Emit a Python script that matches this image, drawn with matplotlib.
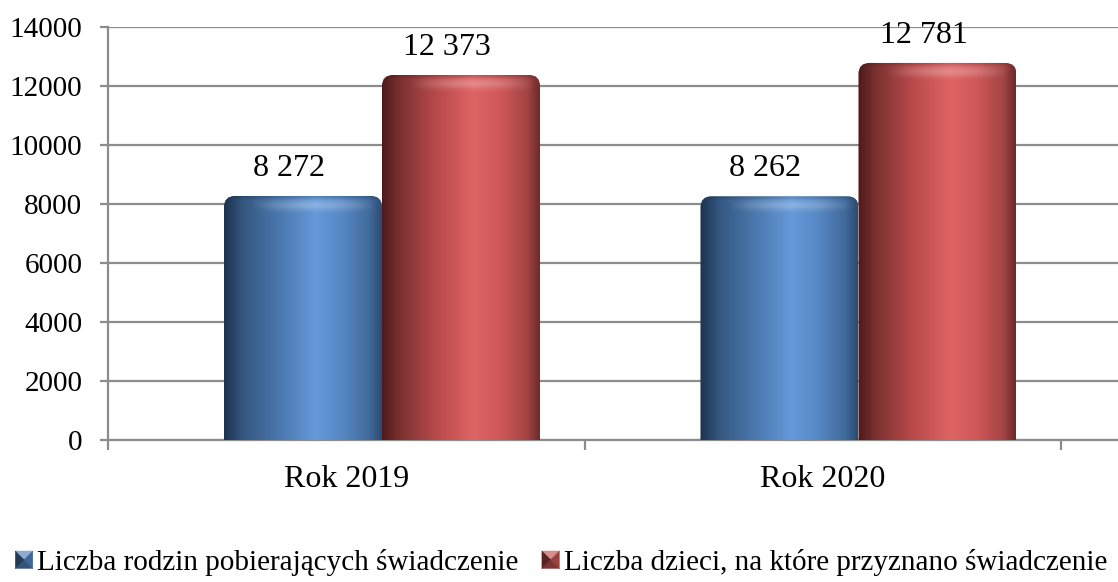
import numpy as np
import matplotlib
matplotlib.use("Agg")
import matplotlib.pyplot as plt
from matplotlib.patches import FancyBboxPatch, Polygon
from matplotlib.legend_handler import HandlerBase
from matplotlib.colors import to_rgb

categories = ["Rok 2019", "Rok 2020"]
series_names = ["Liczba rodzin pobierających świadczenie",
                "Liczba dzieci, na które przyznano świadczenie"]
families = [8272, 8262]
children = [12373, 12781]
yticks = [0, 2000, 4000, 6000, 8000, 10000, 12000, 14000]

# gradient stops (position, colour) across the bar width
blue_stops = [(0.0, "#1e3250"), (0.12, "#34577f"), (0.35, "#4b78ae"),
              (0.58, "#6599da"), (0.75, "#5688c4"), (0.92, "#416a9c"), (1.0, "#2c4b72")]
red_stops = [(0.0, "#4e1a1a"), (0.12, "#7e3232"), (0.35, "#b94a4a"),
             (0.58, "#df6464"), (0.75, "#cf5858"), (0.92, "#a44444"), (1.0, "#6e2a2a")]
blue_base = "#4f81bd"
red_base = "#c0504d"

plt.rcParams['font.family'] = ['Liberation Serif', 'DejaVu Serif']

W, H = 1118, 582
fig = plt.figure(figsize=(W / 100, H / 100), dpi=100)
ax_l, ax_b = 108 / W, (H - 440) / H
ax_w, ax_h = 1 - ax_l, (440 - 27) / H
ax = fig.add_axes([ax_l, ax_b, ax_w, ax_h])

cat_px = 476.5
xmin = -0.5
xmax = -0.5 + (W - 108) / cat_px
ax.set_xlim(xmin, xmax)
ax.set_ylim(0, 14000)

x = np.arange(len(categories))
bw = 158 / cat_px
offset = 0.075
b1 = ax.bar(x + offset - bw / 2, families, width=bw, color="none", zorder=3)
b2 = ax.bar(x + offset + bw / 2, children, width=bw, color="none", zorder=3)


def grad_array(stops, n=256):
    pos = np.array([s[0] for s in stops])
    cols = np.array([to_rgb(s[1]) for s in stops])
    t = np.linspace(0, 1, n)
    arr = np.stack([np.interp(t, pos, cols[:, i]) for i in range(3)], axis=-1)
    return arr[None, :, :]


# pixel-to-data scales
xpp = (xmax - xmin) / (ax_w * W)
ypp = 14000 / (ax_h * H)
r_px = 11
r_x = r_px * xpp
m_aspect = ypp / xpp


def draw_bar(rect, stops):
    x0 = rect.get_x()
    w = rect.get_width()
    h = rect.get_height()
    clip = FancyBboxPatch((x0, -2000), w, h + 2000,
                          boxstyle=f"round,pad=0,rounding_size={r_x}",
                          mutation_aspect=m_aspect, transform=ax.transData,
                          facecolor="none", edgecolor="none")
    ax.add_patch(clip)
    im = ax.imshow(grad_array(stops), extent=(x0, x0 + w, 0, h), aspect="auto",
                   zorder=3, interpolation="bilinear")
    im.set_clip_path(clip)
    # top highlight
    n = 64
    hl = np.zeros((n, 1, 4))
    tt = np.linspace(0, 1, n)  # 0 at top
    alpha = 0.24 * np.exp(-((tt - 0.35) / 0.2) ** 2)
    hl[:, 0, :3] = 1.0
    hl[:, 0, 3] = alpha
    band = 26 * ypp
    hx = np.zeros((1, 128, 4))
    xs = np.linspace(-1, 1, 128)
    hx[0, :, :3] = 1
    hx[0, :, 3] = np.clip(1 - ((xs - 0.15) / 0.8) ** 2, 0, 1)
    comb = hl * hx
    comb[..., :3] = 1.0
    im2 = ax.imshow(comb, extent=(x0, x0 + w, h - band, h), aspect="auto",
                    zorder=3.5, interpolation="bilinear")
    im2.set_clip_path(clip)
    # slight darkening at the rim
    rim = np.zeros((32, 1, 4))
    ta = np.linspace(0, 1, 32)
    rim[:, 0, 3] = 0.15 * np.clip(1 - ta / 0.25, 0, 1)
    im3 = ax.imshow(rim, extent=(x0, x0 + w, h - 16 * ypp, h), aspect="auto",
                    zorder=3.6, interpolation="bilinear")
    im3.set_clip_path(clip)


for r in b1:
    draw_bar(r, blue_stops)
for r in b2:
    draw_bar(r, red_stops)


def fmt(v):
    return f"{v:,}".replace(",", " ")


for rects, vals in ((b1, families), (b2, children)):
    for r, v in zip(rects, vals):
        ax.annotate(fmt(v), (r.get_x() + r.get_width() / 2, v),
                    xytext=(-14, 13), textcoords="offset pixels",
                    ha="center", va="bottom", fontsize=23, color="black")

grid_c = "#8c8c8c"
ax.set_yticks(yticks)
ax.set_yticklabels([str(t) for t in yticks], fontsize=21)
ax.yaxis.grid(True, color=grid_c, linewidth=1.6, zorder=0)
ax.set_axisbelow(True)
ax.tick_params(axis="y", length=6, width=1.6, color=grid_c, pad=12.5)

ax.set_xticks(x)
ax.set_xticklabels(categories, fontsize=23)
ax.tick_params(axis="x", which="major", length=0, pad=18)
ax.set_xticks([-0.5, 0.5, 1.5], minor=True)
ax.tick_params(axis="x", which="minor", length=7, width=1.6, color=grid_c)

for s in ("top", "right"):
    ax.spines[s].set_visible(False)
for s in ("left", "bottom"):
    ax.spines[s].set_color(grid_c)
    ax.spines[s].set_linewidth(1.6)


class PyramidHandler(HandlerBase):
    def __init__(self, base):
        super().__init__()
        self.base = np.array(to_rgb(base))

    def create_artists(self, legend, orig_handle, xdescent, ydescent, width,
                       height, fontsize, trans):
        s = min(width, height)
        x0 = -xdescent + (width - s) / 2
        y0 = -ydescent
        c = (x0 + s / 2, y0 + s / 2)
        b = self.base
        light = np.clip(b + (1 - b) * 0.35, 0, 1)
        dark = b * 0.45
        mid = b * 0.8
        tris = [
            ([(x0, y0 + s), (x0 + s, y0 + s), c], light),
            ([(x0 + s, y0 + s), (x0 + s, y0), c], mid),
            ([(x0, y0), (x0 + s, y0), c], b * 0.65),
            ([(x0, y0), (x0, y0 + s), c], dark),
        ]
        arts = []
        for pts, col in tris:
            p = Polygon(pts, closed=True, facecolor=col, edgecolor=col,
                        linewidth=0.3, transform=trans)
            arts.append(p)
        return arts


h1 = Polygon([[0, 0]], label=series_names[0])
h2 = Polygon([[0, 0]], label=series_names[1])
fig.legend([h1, h2], series_names, loc="center", bbox_to_anchor=(0.502, 1 - 562 / H),
           ncol=2, frameon=False, fontsize=21,
           handler_map={h1: PyramidHandler(blue_base), h2: PyramidHandler(red_base)},
           handlelength=0.6, handleheight=0.6, handletextpad=0.15,
           columnspacing=0.8, borderaxespad=0, borderpad=0)

fig.savefig("out.png", dpi=100)
